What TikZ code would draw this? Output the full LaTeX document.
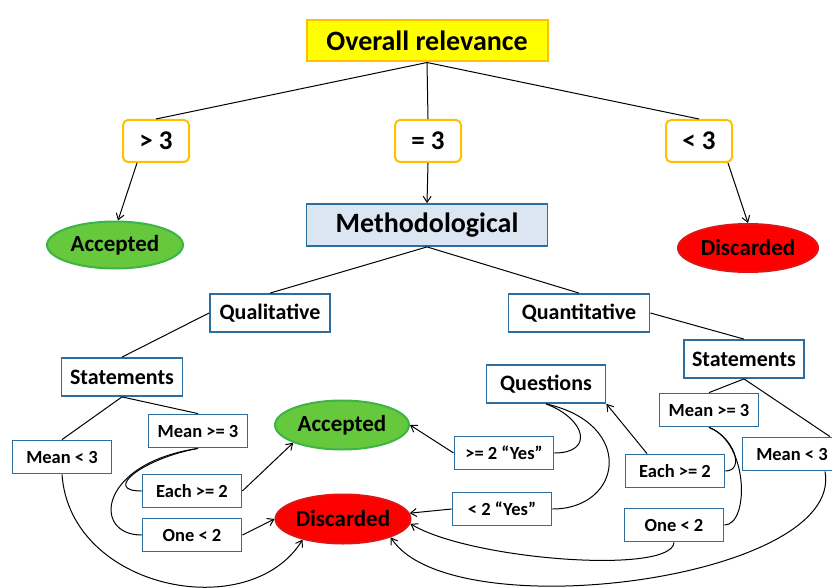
\documentclass[tikz,border=0pt]{standalone}
\usepackage{fontspec}
\setmainfont{Carlito}
\usetikzlibrary{positioning,arrows.meta,shapes.geometric}
\definecolor{relyellow}{RGB}{255,255,0}
\definecolor{relorange}{RGB}{255,192,0}
\definecolor{methfill}{RGB}{220,230,242}
\definecolor{boxblue}{RGB}{46,110,158}
\definecolor{accfill}{RGB}{102,200,60}
\definecolor{accline}{RGB}{60,180,70}
\definecolor{discfill}{RGB}{255,0,0}
\definecolor{discline}{RGB}{225,20,20}
\tikzset{
  rootbox/.style={rectangle,draw=relorange,fill=relyellow,line width=2pt,
    minimum width=241pt,minimum height=41pt,font=\fontsize{28}{32}\selectfont\bfseries},
  condbox/.style={rectangle,draw=relorange,fill=white,line width=2pt,rounded corners=5pt,
    minimum width=66pt,minimum height=42pt,font=\fontsize{27}{32}\selectfont\bfseries},
  methbox/.style={rectangle,draw=boxblue,fill=methfill,line width=1.8pt,
    minimum width=241pt,minimum height=42pt,font=\fontsize{28}{32}\selectfont\bfseries},
  catbox/.style={rectangle,draw=boxblue,fill=white,line width=1.8pt,inner sep=0pt,
    minimum height=38pt,font=\fontsize{22}{26}\selectfont\bfseries},
  critbox/.style={rectangle,draw=boxblue,fill=white,line width=1.8pt,inner sep=0pt,
    minimum width=99pt,minimum height=33pt,font=\fontsize{18.5}{22}\selectfont\bfseries},
  accbox/.style={ellipse,draw=accline,fill=accfill,line width=2pt,inner sep=0pt,
    minimum width=136pt,minimum height=47pt,font=\fontsize{23}{27}\selectfont\bfseries},
  discbox/.style={ellipse,draw=discline,fill=discfill,line width=2pt,inner sep=0pt,
    minimum width=140pt,minimum height=48pt,font=\fontsize{23}{27}\selectfont\bfseries},
  link/.style={line width=1pt},
  arr/.style={line width=1pt,-{Straight Barb[length=6pt,width=8pt]}},
}

\begin{document}
\begin{tikzpicture}[x=1pt,y=-1pt]
  \useasboundingbox (0,0) rectangle (832,588);
  % top level
  \node[rootbox] (root) at (427,41) {Overall relevance};
  \node[condbox] (gt) at (156,141) {> 3};
  \node[condbox] (eq) at (428,141) {= 3};
  \node[condbox] (lt) at (699,141) {< 3};
  \node[accbox] (acc1) at (115,245) {Accepted};
  \node[methbox] (meth) at (427,225) {Methodological};
  \node[discbox] (disc1) at (748,248) {Discarded};
  \draw[link] (root.south) -- (gt.north);
  \draw[link] (root.south) -- (eq.north);
  \draw[link] (root.south) -- (lt.north);
  \draw[arr] ([xshift=-19pt]gt.south) -- ([xshift=3pt]acc1.north);
  \draw[arr] (eq.south) -- (meth.north);
  \draw[arr] ([xshift=29pt]lt.south) -- (disc1.north);
  % methodological
  \node[catbox,minimum width=120pt] (qual) at (270,313) {Qualitative};
  \node[catbox,minimum width=141pt] (quan) at (579,313) {Quantitative};
  \node[catbox,minimum width=121pt] (stl) at (122,377) {Statements};
  \node[critbox] (mgel) at (198,431) {Mean >= 3};
  \node[critbox] (mltl) at (62,457) {Mean < 3};
  \node[critbox] (eachl) at (192,491) {Each >= 2};
  \node[critbox] (onel) at (192,535) {One < 2};
  \node[accbox,minimum width=134pt,minimum height=49pt] (acc2) at (342,425) {Accepted};
  \node[discbox,minimum width=135pt,minimum height=49pt] (disc2) at (343,519) {Discarded};
  \node[catbox,minimum width=119pt] (ques) at (546,384) {Questions};
  \node[critbox] (yes2) at (504,453) {>= 2 “Yes”};
  \node[critbox] (yes1) at (502,509) {< 2 “Yes”};
  \node[catbox,minimum width=120pt] (str) at (744,359) {Statements};
  \node[critbox] (mger) at (709,410) {Mean >= 3};
  \node[critbox] (mltr) at (792,454) {Mean < 3};
  \node[critbox] (eachr) at (675,471) {Each >= 2};
  \node[critbox] (oner) at (674,525) {One < 2};
  \draw[link] (meth.south) -- (qual.north);
  \draw[link] (meth.south) -- (quan.north);
  \draw[link] (qual.west) -- (stl.north);
  \draw[link] (stl.south) -- (mgel.north);
  \draw[link] (stl.south) -- (mltl.north);
  \draw[link] (mgel.south) .. controls +(-55,10) and +(-40,0) .. (eachl.west);
  \draw[link] (mgel.south) .. controls +(-100,15) and +(-50,0) .. (onel.west);
  \draw[arr] (mltl.south) .. controls (70,590) and (250,625) .. (disc2.207);
  \draw[arr] (eachl.east) -- (acc2.200);
  \draw[arr] (onel.east) -- (disc2.west);
  \draw[link] (ques.south) .. controls +(40,15) and +(40,0) .. (yes2.east);
  \draw[link] (ques.south) .. controls +(90,20) and +(70,0) .. (yes1.east);
  \draw[arr] (yes2.west) -- (acc2.east);
  \draw[arr] (yes1.west) -- (disc2.5);
  \draw[arr] ([xshift=-28pt]eachr.north) -- (ques.south east);
  \draw[link] (quan.east) -- (str.north);
  \draw[link] (str.south) -- (mger.north);
  \draw[link] (str.south) -- ([xshift=38pt]mltr.north);
  \draw[link] (mger.south) .. controls +(25,10) and +(20,0) .. (eachr.east);
  \draw[link] (mger.south) .. controls +(40,15) and +(25,0) .. (oner.east);
  \draw[arr] (oner.south) .. controls (672,575) and (470,560) .. (disc2.-4);
  \draw[arr] ([xshift=33pt]mltr.south) .. controls (845,580) and (450,630) .. (disc2.-21);
\end{tikzpicture}
\end{document}
